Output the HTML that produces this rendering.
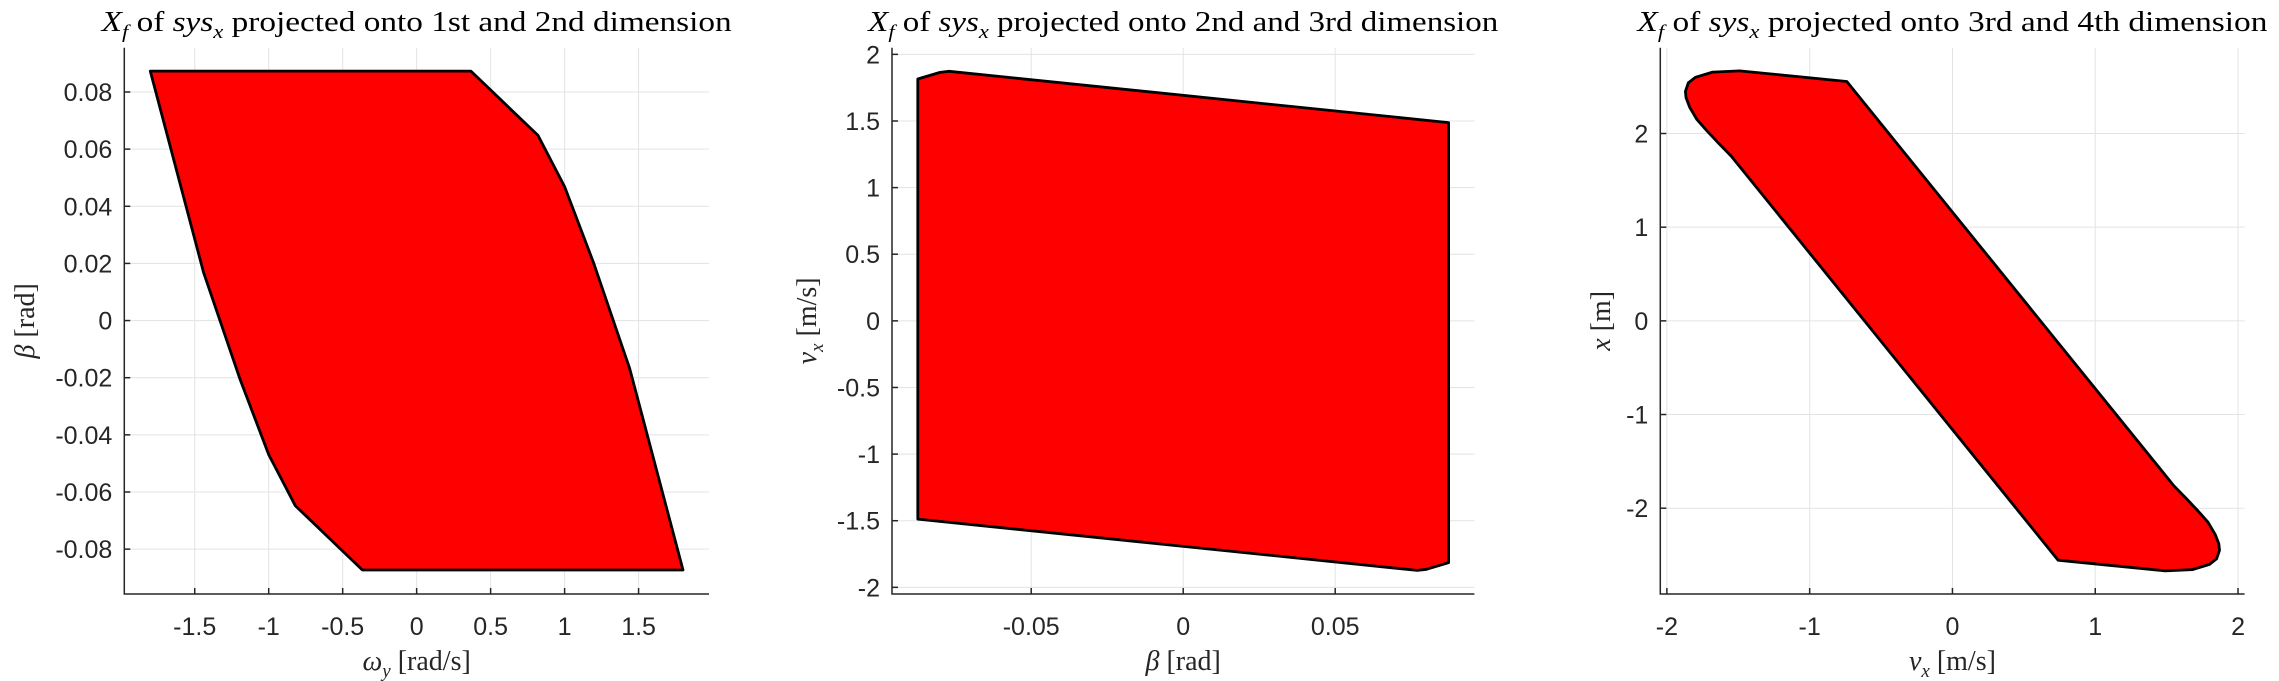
<!DOCTYPE html>
<html><head><meta charset="utf-8"><style>
html,body{margin:0;padding:0;background:#fff;}
svg{display:block;}
.tick{font-family:"Liberation Sans",sans-serif;font-size:25px;fill:#262626;}
.ttl{font-family:"Liberation Serif",serif;font-size:28px;fill:#000;}
.lab{font-family:"Liberation Serif",serif;font-size:28px;fill:#262626;}
</style></head><body>
<svg id="fig" width="2279" height="681" viewBox="0 0 2279 681" xmlns="http://www.w3.org/2000/svg"></svg>
<script>
// Plot 1 data: omega_y vs beta
const p1X = [-1.80, 0.367, 0.82, 1.00, 1.195, 1.44, 1.80, -0.367, -0.82, -1.00, -1.195, -1.44];
const p1Y = [0.0873, 0.0873, 0.0648, 0.0469, 0.0203, -0.0168, -0.0873, -0.0873, -0.0648, -0.0469, -0.0203, 0.0168];
const p1XTicks = [-1.5, -1, -0.5, 0, 0.5, 1, 1.5];
const p1XTickLabels = ["-1.5", "-1", "-0.5", "0", "0.5", "1", "1.5"];
const p1YTicks = [-0.08, -0.06, -0.04, -0.02, 0, 0.02, 0.04, 0.06, 0.08];
const p1YTickLabels = ["-0.08", "-0.06", "-0.04", "-0.02", "0", "0.02", "0.04", "0.06", "0.08"];
// Plot 2 data: beta vs v_x
const p2X = [-0.0873, -0.080, -0.077, 0.0873, 0.0873, 0.080, 0.077, -0.0873];
const p2Y = [1.815, 1.865, 1.873, 1.488, -1.815, -1.865, -1.873, -1.488];
const p2XTicks = [-0.05, 0, 0.05];
const p2XTickLabels = ["-0.05", "0", "0.05"];
const p2YTicks = [-2, -1.5, -1, -0.5, 0, 0.5, 1, 1.5, 2];
const p2YTickLabels = ["-2", "-1.5", "-1", "-0.5", "0", "0.5", "1", "1.5", "2"];
// Plot 3 data: v_x vs x
const p3X = [-0.74, -1.1, -1.49, -1.68, -1.80, -1.85, -1.87, -1.865, -1.84, -1.79, -1.72, -1.64, -1.55, 0.74, 1.1, 1.49, 1.68, 1.80, 1.85, 1.87, 1.865, 1.84, 1.79, 1.72, 1.64, 1.55];
const p3Y = [2.555, 2.61, 2.668, 2.655, 2.60, 2.54, 2.45, 2.38, 2.28, 2.15, 2.03, 1.90, 1.76, -2.555, -2.61, -2.668, -2.655, -2.60, -2.54, -2.45, -2.38, -2.28, -2.15, -2.03, -1.90, -1.76];
const p3XTicks = [-2, -1, 0, 1, 2];
const p3XTickLabels = ["-2", "-1", "0", "1", "2"];
const p3YTicks = [-2, -1, 0, 1, 2];
const p3YTickLabels = ["-2", "-1", "0", "1", "2"];

const NS = "http://www.w3.org/2000/svg";
const svg = document.getElementById("fig");
function mk(tag, attrs, parent) {
  const e = document.createElementNS(NS, tag);
  for (const k in attrs) e.setAttribute(k, attrs[k]);
  (parent || svg).appendChild(e);
  return e;
}
const TOP = 47.7, BOT = 594;

function plot(idx, L, R, xlim, ylim, xs, ys, xt, xtl, yt, ytl, titleParts, xlabParts, ylabParts) {
  const g = mk("g", {});
  
  
  const sx = v => L + (v - xlim[0]) / (xlim[1] - xlim[0]) * (R - L);
  const sy = v => BOT - (v - ylim[0]) / (ylim[1] - ylim[0]) * (BOT - TOP);
  xt.forEach((t) => {
    const l = mk("line", {x1: sx(t), x2: sx(t), y1: TOP, y2: BOT, stroke: "#e3e3e3", "stroke-width": 1}, g);
    
    
  });
  yt.forEach((t) => {
    const l = mk("line", {x1: L, x2: R, y1: sy(t), y2: sy(t), stroke: "#e3e3e3", "stroke-width": 1}, g);
    
    
  });
  const pts = xs.map((x, i) => sx(x).toFixed(1) + "," + sy(ys[i]).toFixed(1)).join(" ");
  const poly = mk("polygon", {points: pts, fill: "#ff0000", stroke: "#000", "stroke-width": 2.8, "stroke-linejoin": "round"}, g);
  
  
  const ax = mk("path", {d: `M${L},${TOP} L${L},${BOT} L${R},${BOT}`, fill: "none", stroke: "#262626", "stroke-width": 1.5}, g);
  
  
  xt.forEach((t, i) => {
    mk("line", {x1: sx(t), x2: sx(t), y1: BOT, y2: BOT - 6, stroke: "#262626", "stroke-width": 1.5}, g);
    const tx = mk("text", {x: sx(t), y: 635, "text-anchor": "middle", class: "tick"}, g);
    tx.textContent = xtl[i];
    
    
  });
  yt.forEach((t, i) => {
    mk("line", {x1: L, x2: L + 6, y1: sy(t), y2: sy(t), stroke: "#262626", "stroke-width": 1.5}, g);
    const ty = mk("text", {x: L - 12, y: sy(t) + 9, "text-anchor": "end", class: "tick"}, g);
    ty.textContent = ytl[i];
    
    
  });
  const tt = mk("text", {x: (L + R) / 2, y: 31, "text-anchor": "middle", class: "ttl", textLength: 630, lengthAdjust: "spacingAndGlyphs"}, g);
  tt.innerHTML = titleParts;
  
  
  const xl = mk("text", {x: (L + R) / 2, y: 670, "text-anchor": "middle", class: "lab"}, g);
  xl.innerHTML = xlabParts;
  
  
  const yx = ylabParts.x, yy = (TOP + BOT) / 2;
  const yl = mk("text", {x: yx, y: yy, "text-anchor": "middle", class: "lab", transform: `rotate(-90 ${yx} ${yy})`}, g);
  yl.innerHTML = ylabParts.t;
  
  
}
const it = s => `<tspan font-style="italic">${s}</tspan>`;
const sub = s => `<tspan font-style="italic" font-size="19" dy="7">${s}</tspan><tspan dy="-7"> </tspan>`;
function title(d) { return `${it("X")}${sub("f")}of ${it("sys")}${sub("x")}projected onto ${d} dimension`; }

plot(1, 124.3, 709, [-1.976, 1.976], [-0.0957, 0.0955], p1X, p1Y, p1XTicks, p1XTickLabels, p1YTicks, p1YTickLabels,
  title("1st and 2nd"), `${it("ω")}${sub("y")}[rad/s]`, {x: 34, t: `${it("β")} [rad]`});
plot(2, 892, 1474.4, [-0.0958, 0.0958], [-2.05, 2.05], p2X, p2Y, p2XTicks, p2XTickLabels, p2YTicks, p2YTickLabels,
  title("2nd and 3rd"), `${it("β")} [rad]`, {x: 816, t: `${it("v")}${sub("x")}[m/s]`});
plot(3, 1660.3, 2244.6, [-2.046, 2.046], [-2.916, 2.916], p3X, p3Y, p3XTicks, p3XTickLabels, p3YTicks, p3YTickLabels,
  title("3rd and 4th"), `${it("v")}${sub("x")}[m/s]`, {x: 1610, t: `${it("x")} [m]`});
</script>
</body></html>
